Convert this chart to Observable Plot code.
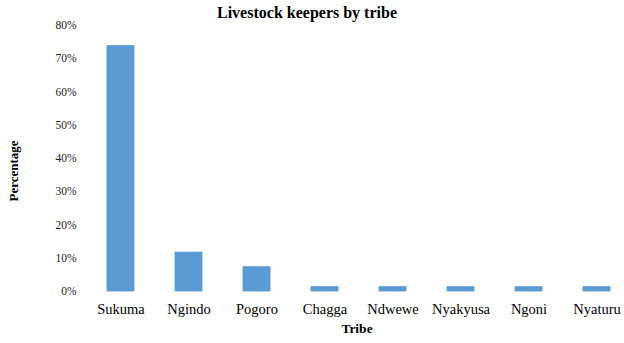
<!DOCTYPE html>
<html>
<head>
<meta charset="utf-8">
<script src="https://cdn.jsdelivr.net/npm/d3@7"></script>
<script src="https://cdn.jsdelivr.net/npm/@observablehq/plot@0.6"></script>
<style>
  html, body { margin: 0; padding: 0; background: #fff; }
  #chart svg { display: block; }
</style>
</head>
<body>
<div id="chart"></div>
<script>
const tribes = ["Sukuma", "Ngindo", "Pogoro", "Chagga", "Ndwewe", "Nyakyusa", "Ngoni", "Nyaturu"];
const shares = [0.738, 0.117, 0.073, 0.013, 0.013, 0.013, 0.013, 0.013];
const yTicks = [0, 0.1, 0.2, 0.3, 0.4, 0.5, 0.6, 0.7, 0.8];
const titleText = "Livestock keepers by tribe";
const xTitle = "Tribe";
const yTitle = "Percentage";

const data = tribes.map((t, i) => ({ tribe: t, share: shares[i] }));
const font = "Liberation Serif";

const plot = Plot.plot({
  width: 624,
  height: 343,
  marginTop: 25,
  marginBottom: 52,
  marginLeft: 86,
  marginRight: 0,
  style: { fontFamily: font, color: "#000", background: "#fff" },
  x: { domain: tribes, range: [86, 631], paddingInner: 0.6, paddingOuter: 0.3, label: null },
  y: { domain: [0, 0.8], label: null },
  marks: [
    Plot.barY(data, { x: "tribe", y: "share", fill: "#5b9bd5", stroke: "#5595d0", strokeWidth: 0.8 }),
    Plot.axisY({ ticks: yTicks, tickSize: 0, tickPadding: 10, tickFormat: d => Math.round(d * 100) + "%", fontSize: 11.5, fill: "#222", label: null }),
    Plot.axisX({ tickSize: 0, tickPadding: 12, fontSize: 14.5, fill: "#000", label: null })
  ]
});

document.getElementById("chart").appendChild(plot);
const svg = d3.select(plot);
svg.append("text")
  .attr("x", 307).attr("y", 18)
  .attr("text-anchor", "middle")
  .attr("font-weight", "bold").attr("font-size", 16)
  .text(titleText);
svg.append("text")
  .attr("x", 357).attr("y", 333)
  .attr("text-anchor", "middle")
  .attr("font-weight", "bold").attr("font-size", 13.5)
  .text(xTitle);
svg.append("text")
  .attr("transform", "translate(18,171) rotate(-90)")
  .attr("text-anchor", "middle")
  .attr("font-weight", "bold").attr("font-size", 13)
  .text(yTitle);
svg.selectAll("g, text").style("font-family", "'Liberation Serif', 'Times New Roman', serif");
</script>
</body>
</html>
